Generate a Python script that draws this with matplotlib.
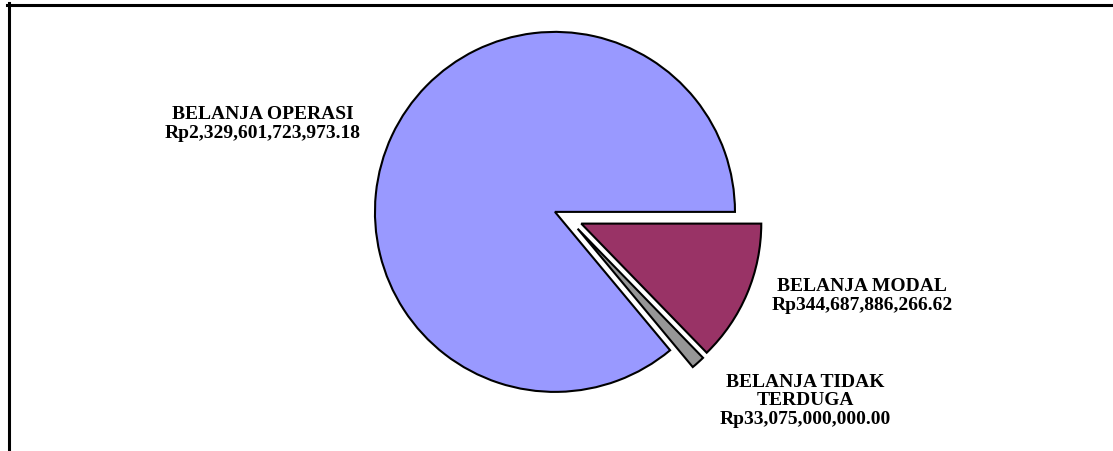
import matplotlib
matplotlib.use("Agg")
import matplotlib.pyplot as plt
from matplotlib.lines import Line2D

# Data
categories = ["BELANJA OPERASI", "BELANJA TIDAK\nTERDUGA", "BELANJA MODAL"]
values = [2329601723973.18, 33075000000.00, 344687886266.62]
colors = ["#9999FF", "#969696", "#993366"]
explode_frac = [0.08, 0.08, 0.08]

W, H = 1113, 452
fig = plt.figure(figsize=(W / 100, H / 100), dpi=100)
ax = fig.add_axes([0, 0, 1, 1])

cx, cy, r = 568, H - 219, 180
wedges, _ = ax.pie(values, colors=colors, explode=[e * r for e in explode_frac],
                   startangle=0, counterclock=True, center=(cx, cy), radius=r,
                   wedgeprops=dict(edgecolor="black", linewidth=1.5),
                   frame=True)
ax.set_xlim(0, W)
ax.set_ylim(0, H)
ax.set_aspect("auto")
ax.axis("off")

font = dict(family="Liberation Serif", fontweight="bold", fontsize=14,
            color="black", ha="center", va="center", linespacing=1.12)
label_pos = [(263, H - 124), (805, H - 401), (862, H - 296)]
for cat, val, (x, y) in zip(categories, values, label_pos):
    ax.text(x, y, f"{cat}\nRp{val:,.2f}", **font)

# frame lines
fig.add_artist(Line2D([7 / W, 1.0], [1 - 5.5 / H, 1 - 5.5 / H], color="black",
                      linewidth=2.2, transform=fig.transFigure))
fig.add_artist(Line2D([8.5 / W, 8.5 / W], [0, 1 - 4 / H], color="black",
                      linewidth=2.2, transform=fig.transFigure))

fig.savefig("out.png", dpi=100)
